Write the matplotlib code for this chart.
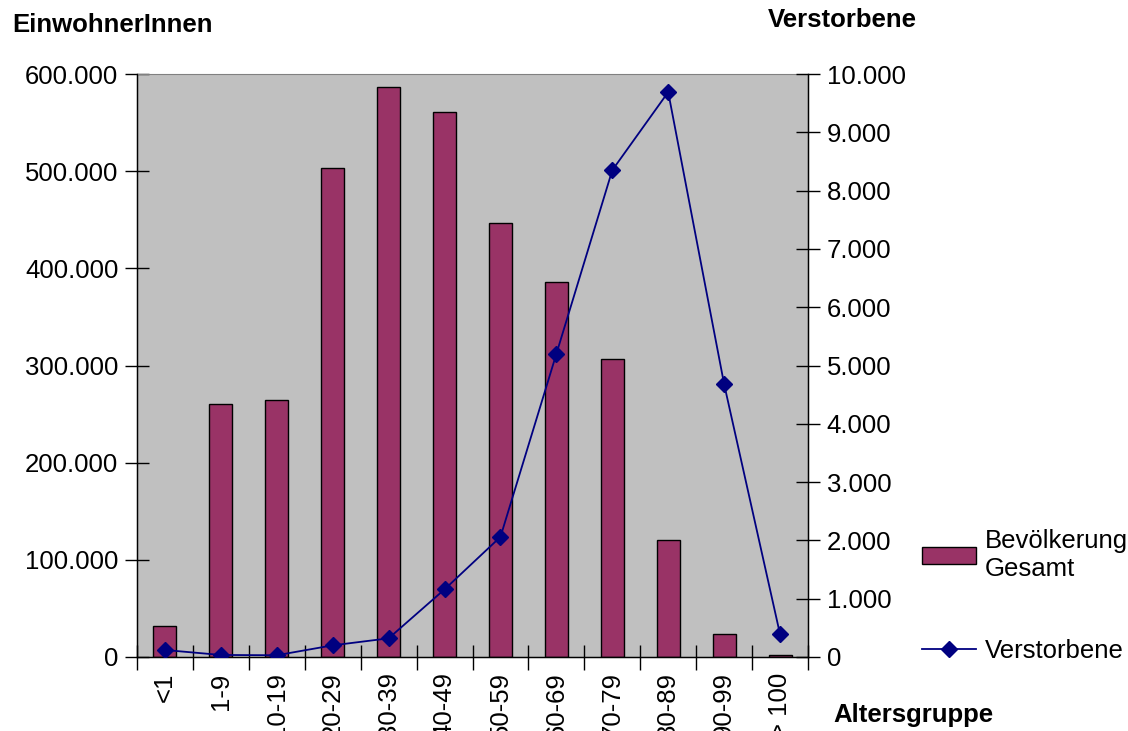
import numpy as np
import matplotlib
matplotlib.use("Agg")
import matplotlib.pyplot as plt
from matplotlib.patches import Patch
from matplotlib.lines import Line2D

plt.rcParams['font.family'] = ['Liberation Sans', 'DejaVu Sans']

# data
age_groups = ["<1", "1-9", "10-19", "20-29", "30-39", "40-49", "50-59",
              "60-69", "70-79", "80-89", "90-99", "> 100"]
population = [32000, 260000, 264000, 503000, 587000, 561000, 447000,
              386000, 307000, 120000, 23500, 2000]
deaths = [120, 35, 30, 200, 320, 1160, 2060, 5200, 8350, 9690, 4680, 390]

bar_color = "#993366"
line_color = "#000080"
fs = 18.5

fig = plt.figure(figsize=(11.28, 7.31), dpi=100)
ax = fig.add_axes([137/1128, 1-657/731, 671/1128, 583/731])
ax.set_facecolor("#C0C0C0")

x = np.arange(len(age_groups))
ax.bar(x, population, width=0.41, color=bar_color, edgecolor="black", linewidth=1, zorder=2)
ax.set_xlim(-0.5, len(age_groups) - 0.5)
ax.set_ylim(0, 600000)
ax.set_yticks(np.arange(0, 600001, 100000))
ax.set_yticklabels([f"{v:,}".replace(",", ".") for v in range(0, 600001, 100000)], fontsize=fs)

ax.set_xticks(x)
ax.set_xticklabels(age_groups, rotation=90, fontsize=fs, va="top")
ax.set_xticks(np.arange(-0.5, len(age_groups)), minor=True)
ax.tick_params(axis="x", which="major", length=0, pad=11)
ax.tick_params(axis="x", which="minor", direction="inout", length=18, width=1)
ax.tick_params(axis="y", direction="inout", length=17, width=1, pad=5)

for s in ["left", "bottom", "right"]:
    ax.spines[s].set_color("black")
    ax.spines[s].set_linewidth(1)
ax.spines["top"].set_color("#808080")

ax2 = ax.twinx()
ax2.plot(x, deaths, color=line_color, linewidth=1.3, marker="D", markersize=8, zorder=3)
ax2.set_ylim(0, 10000)
ax2.set_yticks(np.arange(0, 10001, 1000))
ax2.set_yticklabels([f"{v:,}".replace(",", ".") for v in range(0, 10001, 1000)], fontsize=fs)
ax2.tick_params(axis="y", direction="inout", length=17, width=1, pad=5)
ax2.spines["right"].set_color("black")
ax2.spines["top"].set_visible(False)

fig.text(12/1128, 1-25/731, "EinwohnerInnen", fontsize=fs, fontweight="bold", va="center", ha="left")
fig.text(768/1128, 1-20/731, "Verstorbene", fontsize=fs, fontweight="bold", va="center", ha="left")
fig.text(833/1128, 1-715/731, "Altersgruppe", fontsize=fs, fontweight="bold", va="center", ha="left")

handles = [Patch(facecolor=bar_color, edgecolor="black", linewidth=1),
           Line2D([], [], color=line_color, linewidth=1.3, marker="D", markersize=8)]
fig.legend(handles, ["Bevölkerung\nGesamt", "Verstorbene"], loc="upper left",
           bbox_to_anchor=(922/1128, 1-529/731), frameon=False, fontsize=fs,
           borderpad=0, borderaxespad=0, handlelength=2.1, handleheight=0.6,
           handletextpad=0.35, labelspacing=2.25)

fig.savefig("out.png", dpi=100)
